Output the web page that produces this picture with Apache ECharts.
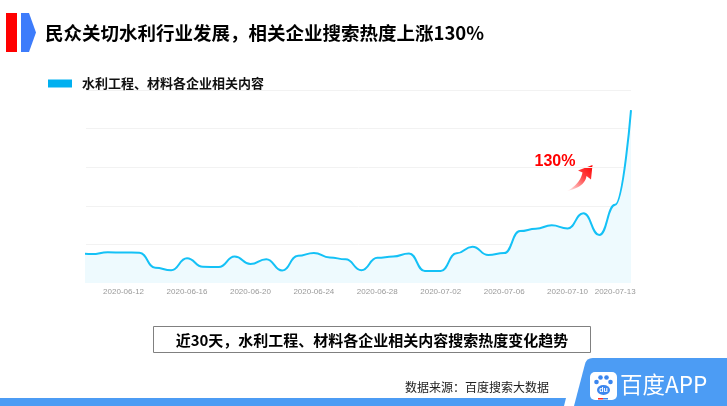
<!DOCTYPE html>
<html>
<head>
<meta charset="utf-8">
<script src="https://cdn.jsdelivr.net/npm/echarts@6/dist/echarts.min.js"></script>
<style>
html,body{margin:0;padding:0;background:#fff;}
#chart{width:727px;height:406px;}
</style>
</head>
<body>
<div id="chart"></div>
<script>
const dates = [
  '2020-06-09','2020-06-10','2020-06-11','2020-06-12','2020-06-13','2020-06-14',
  '2020-06-15','2020-06-16','2020-06-17','2020-06-18','2020-06-19','2020-06-20',
  '2020-06-21','2020-06-22','2020-06-23','2020-06-24','2020-06-25','2020-06-26',
  '2020-06-27','2020-06-28','2020-06-29','2020-06-30','2020-07-01','2020-07-02',
  '2020-07-03','2020-07-04','2020-07-05','2020-07-06','2020-07-07','2020-07-08',
  '2020-07-09','2020-07-10','2020-07-11','2020-07-12','2020-07-13','2020-07-14'
];
const values = [
  15.5, 15.0, 15.9, 15.8, 15.7, 7.9,
  6.6, 12.8, 8.4, 8.3, 13.7, 9.8,
  12.3, 6.5, 14.1, 15.6, 13.2, 12.3,
  6.6, 13.1, 13.7, 15.3, 6.2, 6.2,
  15.4, 18.8, 14.5, 15.5, 26.9, 28.1,
  29.9, 28.3, 36.1, 24.9, 40.5, 89.6
];
const tickLabels = ['2020-06-12','2020-06-16','2020-06-20','2020-06-24','2020-06-28','2020-07-02','2020-07-06','2020-07-10','2020-07-13'];
const seriesName = '水利工程、材料各企业相关内容';
const titleText = '民众关切水利行业发展，相关企业搜索热度上涨130%';
const subtitleText = '近30天，水利工程、材料各企业相关内容搜索热度变化趋势';
const sourceText = '数据来源：百度搜索大数据';
const growthText = '130%';

const CJK = '"Noto Sans CJK SC", "Noto Sans", sans-serif';
const tickIdx = tickLabels.map(t => dates.indexOf(t));
const seriesData = dates.map((d, i) => [i, values[i]]);

function txt(text, x, y, font, fill, align) {
  return {
    type: 'text',
    style: {
      text: text, x: x, y: y, font: font, fill: fill,
      textAlign: align || 'left', align: align || 'left',
      textVerticalAlign: 'middle', verticalAlign: 'middle'
    }
  };
}
// quadratic bezier sampled as polygon points (decoration shapes only)
function qb(p0, c, p1, n) {
  const pts = [];
  for (let i = 0; i <= n; i++) {
    const t = i / n, u = 1 - t;
    pts.push([u*u*p0[0] + 2*u*t*c[0] + t*t*p1[0], u*u*p0[1] + 2*u*t*c[1] + t*t*p1[1]]);
  }
  return pts;
}
const arrowPts = [].concat(
  qb([567, 191], [585, 187], [586.5, 176], 12),
  [[591, 179.5], [592.5, 165], [578, 170.5]],
  qb([582.5, 172.5], [580, 184], [567.5, 190.8], 12)
);
const tabPts = [[574, 406], [585, 364]].concat(qb([585, 364], [586.5, 358], [593, 358], 6), [[727, 358], [727, 406]]);

const chart = echarts.init(document.getElementById('chart'), null, {renderer: 'canvas'});
chart.setOption({
  backgroundColor: '#ffffff',
  animation: false,
  legend: {
    left: 43, top: 72,
    icon: 'rect', itemWidth: 24, itemHeight: 8,
    textStyle: {fontFamily: CJK, fontSize: 13, fontWeight: 'bold', color: '#111', padding: [0, 0, 0, 5]},
    data: [seriesName]
  },
  grid: {left: 86, right: 96, top: 90, bottom: 123},
  xAxis: {
    type: 'value', min: 0.63, max: dates.length - 1,
    axisLine: {show: false}, axisTick: {show: false}, splitLine: {show: false},
    axisLabel: {
      customValues: tickIdx,
      formatter: v => dates[Math.round(v)] || '',
      color: '#9a9a9a', fontSize: 8, fontFamily: 'Liberation Sans, Arial, sans-serif', margin: 5
    }
  },
  yAxis: {
    type: 'value', min: 0, max: 100, interval: 20,
    axisLine: {show: false}, axisTick: {show: false}, axisLabel: {show: false},
    splitLine: {show: true, showMinLine: false, lineStyle: {color: '#f2f2f2', width: 1}}
  },
  series: [{
    name: seriesName, type: 'line', data: seriesData,
    smooth: 0.5, smoothMonotone: 'x', symbol: 'none', clip: true,
    color: '#00b0f0',
    lineStyle: {color: '#14c1f6', width: 2},
    areaStyle: {color: '#eefafe', opacity: 1}
  }],
  graphic: [
    {type: 'rect', shape: {x: 6, y: 13, width: 11, height: 39}, style: {fill: '#ff0000'}},
    {type: 'polygon', shape: {points: [[21, 13], [29, 13], [36, 32.5], [29, 52], [21, 52]]}, style: {fill: '#3d7cfb'}},
    txt(titleText, 45, 33, 'bold 18.5px ' + CJK, '#000'),
    txt('@百度指数', 604, 271, '10px ' + CJK, '#cfcfcf', 'center'),
    txt(growthText, 555, 162, 'bold 16px "Liberation Sans", Arial, sans-serif', '#ff0000', 'center'),
    {type: 'polygon', shape: {points: arrowPts},
      style: {fill: new echarts.graphic.LinearGradient(0, 1, 1, 0, [
        {offset: 0, color: 'rgba(255,0,0,0.05)'}, {offset: 0.6, color: 'rgba(255,0,0,0.75)'}, {offset: 1, color: '#ff0000'}])}},
    {type: 'rect', shape: {x: 153.5, y: 326.5, width: 437, height: 26}, style: {fill: 'none', stroke: '#808080', lineWidth: 1}},
    txt(subtitleText, 372, 340, 'bold 15px ' + CJK, '#000', 'center'),
    txt(sourceText, 405, 387, '12px ' + CJK, '#222'),
    {type: 'polygon', shape: {points: [[0, 398], [566, 398], [564, 406], [0, 406]]}, style: {fill: '#4c9cf4'}},
    {type: 'polygon', shape: {points: tabPts}, style: {fill: '#4c9cf4'}},
    {type: 'rect', shape: {x: 590, y: 372, width: 27, height: 28, r: 5}, style: {fill: '#ffffff'}},
    {type: 'circle', shape: {cx: 596.5, cy: 382, r: 2.3}, style: {fill: '#3b86ef'}},
    {type: 'circle', shape: {cx: 600.5, cy: 377.5, r: 2.3}, style: {fill: '#3b86ef'}},
    {type: 'circle', shape: {cx: 606.5, cy: 377.5, r: 2.3}, style: {fill: '#3b86ef'}},
    {type: 'circle', shape: {cx: 610.5, cy: 382, r: 2.3}, style: {fill: '#3b86ef'}},
    {type: 'circle', x: 603.5, y: 390, scaleX: 1.3, shape: {cx: 0, cy: 0, r: 5}, style: {fill: '#3b86ef'}},
    txt('du', 603.5, 390.5, 'bold 7px "Liberation Sans", Arial, sans-serif', '#ffffff', 'center'),
    {type: 'rect', shape: {x: 598, y: 398, width: 5, height: 1.5}, style: {fill: '#ff2a2a'}},
    {type: 'rect', shape: {x: 603, y: 398, width: 5, height: 1.5}, style: {fill: '#3b86ef'}},
    txt('百度APP', 620, 384, '22.5px ' + CJK, '#ffffff')
  ]
});
</script>
</body>
</html>
